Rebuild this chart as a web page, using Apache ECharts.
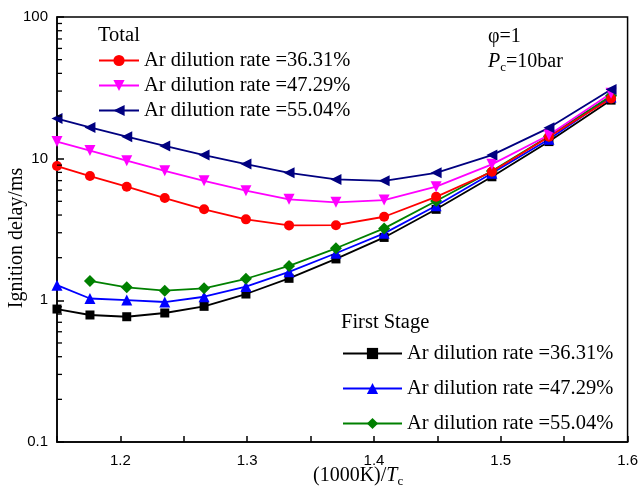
<!DOCTYPE html>
<html>
<head>
<meta charset="utf-8">
<script src="https://cdn.jsdelivr.net/npm/echarts@6/dist/echarts.min.js"></script>
<style>
  html, body { margin: 0; padding: 0; background: #fff; }
  #main { width: 641px; height: 493px; }
</style>
</head>
<body>
<div id="main"></div>
<script>
// 1000/Tc values of the measured points
const xValues = [1.15, 1.176, 1.205, 1.235, 1.266, 1.299, 1.333, 1.370, 1.408, 1.449, 1.493, 1.538, 1.587];

// total ignition delay (ms)
const total3631 = [8.87, 7.54, 6.34, 5.27, 4.39, 3.73, 3.38, 3.39, 3.89, 5.38, 8.08, 14.3, 26.6];
const total4729 = [13.2, 11.4, 9.67, 8.21, 6.98, 5.94, 5.16, 4.92, 5.10, 6.34, 9.12, 14.7, 28.9];
const total5504 = [19.2, 16.6, 14.3, 12.3, 10.6, 9.16, 7.95, 7.14, 6.98, 7.95, 10.6, 16.5, 30.8];

// first stage ignition delay (ms)
const first3631 = [0.868, 0.788, 0.766, 0.814, 0.907, 1.108, 1.43, 1.96, 2.78, 4.39, 7.45, 13.2, 25.9];
const first4729 = [1.28, 1.03, 1.005, 0.973, 1.06, 1.25, 1.59, 2.15, 2.97, 4.65, 7.88, 13.7, 27.3];
const first5504 = [null, 1.37, 1.235, 1.17, 1.215, 1.42, 1.75, 2.33, 3.22, 5.02, 8.18, 14.4, 27.8];

const totalNames = ['Ar dilution rate =36.31%', 'Ar dilution rate =47.29%', 'Ar dilution rate =55.04%'];
const firstNames = ['Ar dilution rate =36.31% ', 'Ar dilution rate =47.29% ', 'Ar dilution rate =55.04% '];

// minor ticks of the log axis
const minorTicks = [0.2, 0.3, 0.4, 0.5, 0.6, 0.7, 0.8, 0.9, 2, 3, 4, 5, 6, 7, 8, 9, 20, 30, 40, 50, 60, 70, 80, 90];

const serif = '"Liberation Serif", "Times New Roman", serif';
const sans = '"Liberation Sans", Arial, sans-serif';

function pairs(ys) {
    const out = [];
    ys.forEach(function (y, i) {
        if (y != null) out.push([xValues[i], y]);
    });
    return out;
}

function lineSeries(name, ys, color, symbol, size, rotate) {
    return {
        name: name,
        type: 'line',
        data: pairs(ys),
        symbol: symbol,
        symbolSize: size,
        symbolRotate: rotate || 0,
        clip: false,
        lineStyle: { color: color, width: 1.8 },
        itemStyle: { color: color },
        emphasis: { disabled: true },
        animation: false
    };
}

const chart = echarts.init(document.getElementById('main'));

const legendText = { fontFamily: serif, fontSize: 20.5, color: '#000', lineHeight: 20 };

const option = {
    backgroundColor: '#fff',
    animation: false,
    grid: {
        left: 57, right: 13, top: 17, bottom: 51,
        show: true, borderColor: '#000', borderWidth: 1.5
    },
    title: [
        { text: 'Total', left: 93, top: 20, textStyle: { fontFamily: serif, fontSize: 20.5, fontWeight: 'normal', color: '#000' } },
        { text: 'First Stage', left: 336, top: 307, textStyle: { fontFamily: serif, fontSize: 20.5, fontWeight: 'normal', color: '#000' } }
    ],
    legend: [
        {
            data: totalNames,
            orient: 'vertical',
            left: 93, top: 45,
            itemWidth: 40, itemHeight: 14, itemGap: 4,
            textStyle: legendText
        },
        {
            data: firstNames,
            orient: 'vertical',
            left: 337, top: 338,
            itemWidth: 59, itemHeight: 14, itemGap: 14,
            textStyle: legendText
        }
    ],
    xAxis: {
        type: 'value',
        min: 1.15, max: 1.6, interval: 0.05,
        axisLine: { lineStyle: { color: '#000', width: 1.5 } },
        axisTick: { inside: true, length: 6, lineStyle: { color: '#000', width: 1.5 } },
        axisLabel: {
            fontFamily: sans, fontSize: 15, color: '#000', margin: 11,
            formatter: function (v) {
                const r = Math.round(v * 20);
                return r % 2 === 0 ? v.toFixed(1) : '';
            }
        },
        splitLine: { show: false }
    },
    yAxis: {
        type: 'log',
        logBase: 10,
        min: 0.1, max: 100,
        axisLine: { lineStyle: { color: '#000', width: 1.5 } },
        axisTick: { inside: true, length: 7, lineStyle: { color: '#000', width: 1.5 } },
        axisLabel: { fontFamily: sans, fontSize: 15, color: '#000', margin: 9 },
        splitLine: { show: false }
    },
    graphic: [
        {
            type: 'text', x: 17, y: 238, rotation: Math.PI / 2,
            style: { text: 'Ignition delay/ms', font: '20px ' + serif, fill: '#000', align: 'center', verticalAlign: 'middle' }
        },
        {
            type: 'text', left: 313, top: 466,
            style: {
                text: '{a|(1000K)/}{i|T}{s|c}',
                fill: '#000',
                rich: {
                    a: { fontFamily: serif, fontSize: 20 },
                    i: { fontFamily: serif, fontSize: 20, fontStyle: 'italic' },
                    s: { fontFamily: serif, fontSize: 13, padding: [12, 0, 0, 0] }
                }
            }
        },
        {
            type: 'text', left: 488, top: 27,
            style: { text: 'φ=1', font: '20px ' + serif, fill: '#000' }
        },
        {
            type: 'text', left: 488, top: 52,
            style: {
                text: '{i|P}{s|c}{a|=10bar}',
                fill: '#000',
                rich: {
                    a: { fontFamily: serif, fontSize: 20 },
                    i: { fontFamily: serif, fontSize: 20, fontStyle: 'italic' },
                    s: { fontFamily: serif, fontSize: 13, padding: [12, 0, 0, 0] }
                }
            }
        }
    ],
    series: [
        lineSeries(firstNames[0], first3631, '#000000', 'rect', 9),
        lineSeries(firstNames[1], first4729, '#0000ff', 'triangle', 11),
        lineSeries(firstNames[2], first5504, '#008000', 'diamond', 12),
        lineSeries(totalNames[0], total3631, '#ff0000', 'circle', 10),
        lineSeries(totalNames[1], total4729, '#ff00ff', 'triangle', 11, 180),
        lineSeries(totalNames[2], total5504, '#000080', 'triangle', 11, 90),
        {
            type: 'custom',
            silent: true,
            clip: false,
            data: minorTicks.map(function (v) { return [1.15, v]; }),
            renderItem: function (params, api) {
                const p = api.coord([api.value(0), api.value(1)]);
                return {
                    type: 'line',
                    shape: { x1: p[0], y1: p[1], x2: p[0] + 5, y2: p[1] },
                    style: { stroke: '#000', lineWidth: 1.3 }
                };
            },
            z: 5
        }
    ]
};

chart.setOption(option);
</script>
</body>
</html>
